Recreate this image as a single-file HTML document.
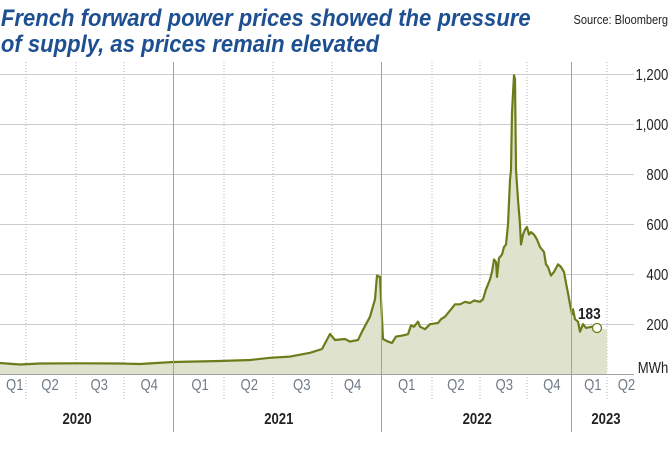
<!DOCTYPE html>
<html><head><meta charset="utf-8"><style>
html,body{margin:0;padding:0;background:#fff;width:669px;height:450px;overflow:hidden}
svg{display:block}
</style></head><body>
<svg width="669" height="450" xmlns="http://www.w3.org/2000/svg" font-family="Liberation Sans, sans-serif">
<defs>
<path id="d" d="M0,363 L20,364.5 L40,363.5 L80,363.3 L120,363.5 L140,364 L173,362 L220,361 L250,360 L270,357.8 L290,356.6 L310,352.8 L322,349 L330,334 L335,340 L345,339 L350,341.6 L358,340 L362,331.7 L366,324.2 L370,316.7 L375,299.3 L377,275.6 L380,276.9 L381,299.3 L383,339 L388,341.6 L392,342.9 L396,336.6 L403,335.4 L408,334.2 L411,325.4 L414,326.7 L418,321.7 L420,326.7 L425,329.2 L430,324.2 L438,323 L441,319.2 L445,316.7 L451,309.3 L455,304.3 L460,304.3 L465,301.8 L470,303 L474,300.5 L480,301.8 L483,299.3 L486,289.3 L488,284.4 L490,279.4 L492,271.9 L494,259.5 L496,262 L497,276.9 L499,258.2 L502,254.5 L504,247 L506,244.5 L508,224.6 L510,179.8 L511,169.8 L512,112.6 L514,75.2 L515,79 L516,169.8 L518,199.7 L520,224.6 L521,244.5 L523,234.6 L525,229.6 L527,227.1 L529,234.6 L531,232.1 L534,234.6 L537,239.5 L540,247 L544,252 L546,264.4 L548,266.9 L551,275.6 L554,271.9 L558,264.4 L561,266.9 L564,271.9 L566,283.1 L568,293.1 L570,304.3 L572,314.2 L573,309.3 L575,319.2 L578,321.7 L580,331.7 L583,324.2 L586,327.9 L592,326.7 L597,328.4"/>
</defs>
<g transform="scale(0.92,1)">
<text x="1" y="26" font-size="24" font-weight="bold" font-style="italic" fill="#1d4f91">French forward power prices showed the pressure</text>
<text x="1" y="52" font-size="24" font-weight="bold" font-style="italic" fill="#1d4f91">of supply, as prices remain elevated</text>
</g>
<text x="668" y="24" font-size="13" fill="#222" text-anchor="end" transform="translate(668,0) scale(0.85,1) translate(-668,0)">Source: Bloomberg</text>
<g stroke="#c8cdd0" stroke-width="1">
<line x1="0" y1="74.5" x2="634" y2="74.5"/>
<line x1="0" y1="124.5" x2="634" y2="124.5"/>
<line x1="0" y1="174.5" x2="634" y2="174.5"/>
<line x1="0" y1="224.5" x2="634" y2="224.5"/>
<line x1="0" y1="274.5" x2="634" y2="274.5"/>
<line x1="0" y1="324.5" x2="634" y2="324.5"/>
</g>
<g stroke="#b0b5b8" stroke-width="1" stroke-dasharray="1,2">
<line x1="26" y1="62" x2="26" y2="400"/><line x1="76" y1="62" x2="76" y2="400"/><line x1="124" y1="62" x2="124" y2="400"/>
<line x1="224" y1="62" x2="224" y2="400"/><line x1="273" y1="62" x2="273" y2="400"/><line x1="332" y1="62" x2="332" y2="400"/>
<line x1="432" y1="62" x2="432" y2="400"/><line x1="480" y1="62" x2="480" y2="400"/><line x1="527" y1="62" x2="527" y2="400"/>
<line x1="607" y1="62" x2="607" y2="400"/>
</g>
<path d="M0,363 L20,364.5 L40,363.5 L80,363.3 L120,363.5 L140,364 L173,362 L220,361 L250,360 L270,357.8 L290,356.6 L310,352.8 L322,349 L330,334 L335,340 L345,339 L350,341.6 L358,340 L362,331.7 L366,324.2 L370,316.7 L375,299.3 L377,275.6 L380,276.9 L381,299.3 L383,339 L388,341.6 L392,342.9 L396,336.6 L403,335.4 L408,334.2 L411,325.4 L414,326.7 L418,321.7 L420,326.7 L425,329.2 L430,324.2 L438,323 L441,319.2 L445,316.7 L451,309.3 L455,304.3 L460,304.3 L465,301.8 L470,303 L474,300.5 L480,301.8 L483,299.3 L486,289.3 L488,284.4 L490,279.4 L492,271.9 L494,259.5 L496,262 L497,276.9 L499,258.2 L502,254.5 L504,247 L506,244.5 L508,224.6 L510,179.8 L511,169.8 L512,112.6 L514,75.2 L515,79 L516,169.8 L518,199.7 L520,224.6 L521,244.5 L523,234.6 L525,229.6 L527,227.1 L529,234.6 L531,232.1 L534,234.6 L537,239.5 L540,247 L544,252 L546,264.4 L548,266.9 L551,275.6 L554,271.9 L558,264.4 L561,266.9 L564,271.9 L566,283.1 L568,293.1 L570,304.3 L572,314.2 L573,309.3 L575,319.2 L578,321.7 L580,331.7 L583,324.2 L586,327.9 L592,326.7 L597,328.4 L607,329 L607,374 L0,374 Z" fill="#dfe2cc"/>
<use href="#d" fill="none" stroke="#6b7d1a" stroke-width="2.2" stroke-linejoin="round"/>
<circle cx="597" cy="328" r="4.5" fill="#fff" stroke="#6b7d1a" stroke-width="1.3"/>
<text x="578" y="319" font-size="16" font-weight="bold" fill="#222" transform="translate(578,0) scale(0.85,1) translate(-578,0)">183</text>
<line x1="0" y1="374.5" x2="634" y2="374.5" stroke="#9aa3a6" stroke-width="1"/>
<g stroke="#9aa3a6" stroke-width="1">
<line x1="173.5" y1="62" x2="173.5" y2="432"/>
<line x1="381.5" y1="62" x2="381.5" y2="432"/>
<line x1="571.5" y1="62" x2="571.5" y2="432"/>
</g>
<g font-size="16" fill="#222" text-anchor="end">
<g transform="scale(0.82,1)">
<text x="815" y="80">1,200</text>
<text x="815" y="130">1,000</text>
<text x="815" y="180">800</text>
<text x="815" y="230">600</text>
<text x="815" y="280">400</text>
<text x="815" y="330">200</text>
<text x="815" y="373">MWh</text>
</g>
</g>
<g font-size="16" fill="#6e7b86" text-anchor="middle">
<g transform="scale(0.82,1)">
<text x="18" y="390">Q1</text><text x="61" y="390">Q2</text><text x="121" y="390">Q3</text><text x="182" y="390">Q4</text>
<text x="244" y="390">Q1</text><text x="304" y="390">Q2</text><text x="368" y="390">Q3</text><text x="430" y="390">Q4</text>
<text x="496" y="390">Q1</text><text x="556" y="390">Q2</text><text x="615" y="390">Q3</text><text x="673" y="390">Q4</text>
<text x="723" y="390">Q1</text><text x="764" y="390">Q2</text>
</g>
</g>
<g font-size="16" font-weight="bold" fill="#222" text-anchor="middle">
<g transform="scale(0.82,1)">
<text x="94" y="424">2020</text>
<text x="340" y="424">2021</text>
<text x="582" y="424">2022</text>
<text x="739" y="424">2023</text>
</g>
</g>
</svg>
</body></html>
